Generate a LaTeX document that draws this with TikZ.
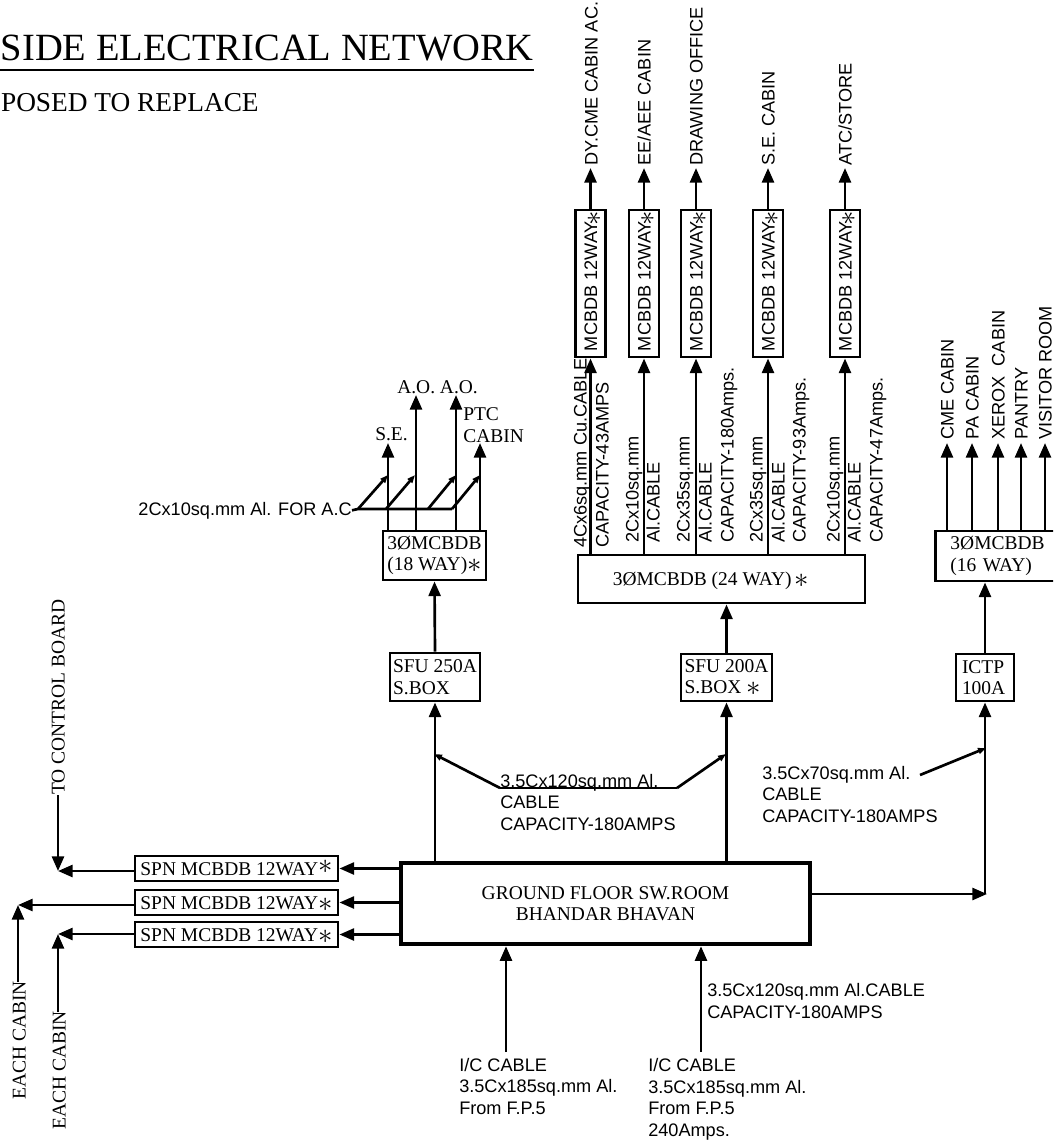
\documentclass[tikz,border=0pt]{standalone}
\usepackage{fontspec}
\usepackage{graphicx}
\setmainfont{Liberation Serif}
\newfontfamily\arialf{Liberation Sans}
\usetikzlibrary{arrows.meta,calc}
\newcommand{\pxu}{.75pt}
\newcommand{\sta}[1][-1.2pt]{\raisebox{#1}{\scalebox{1.5}{$\ast$}}}
\tikzset{
  tms/.style={inner sep=0pt,font=\fontsize{14.6}{16.1}\selectfont,align=left},
  ari/.style={inner sep=0pt,font=\arialf\fontsize{13.6}{16.1}\selectfont,align=left},
  pbox/.style={draw,line width=2.2pt,inner sep=0pt,fill=white},
  gbox/.style={pbox,line width=3.4pt},
  conn/.style={line width=2pt},
  arr/.style={conn,-{Triangle[length=11pt,width=9pt]}},
  sarr/.style={conn,-{Triangle[length=6pt,width=4.5pt]}},
  rlab/.style={rotate=90,anchor=base west},
  blab/.style={anchor=base west}
}
\begin{document}
\begin{tikzpicture}[x=.75pt,y=-.75pt]
\path[use as bounding box,clip] (0,0) rectangle (1053,1141);
% title
\node[anchor=base east,inner sep=0pt,font=\fontsize{28.9}{34}\selectfont] (title) at (534,61) {SIDE ELECTRICAL NETWORK};
\node[anchor=base east,inner sep=0pt,font=\fontsize{20.5}{24}\selectfont] (sub) at (259,112) {POSED TO REPLACE};
\coordinate (ulA) at (0,70);
\coordinate (ulB) at (534,70);
\draw[line width=2pt] (ulA) -- (ulB);

% MCBDB 12WAY boxes
\foreach \n/\x in {1/590.5,2/644,3/696,4/768,5/845}{
  \node[pbox,ari,rotate=90,minimum width=147*\pxu,minimum height=30*\pxu,text height=13*\pxu,text depth=0pt] (mb\n) at (\x,283.5) {MCBDB 12WAY\hspace{-3pt}\sta[-3pt]\hspace{-4pt}};
}
% 24 way
\node[pbox,tms,minimum width=287*\pxu,minimum height=48*\pxu,text height=13*\pxu,text depth=0pt] (b24) at (721.5,579) {3ØMCBDB (24 WAY)\,\sta\hspace{15\pxu}};
% arrows 24way to boxes and out
\foreach \n/\x in {1/590.5,2/644,3/696,4/768,5/845}{
  \coordinate (tm\n) at (\x,168);
  \draw[arr] (b24.north -| mb\n.west) -- (mb\n.west);
  \draw[arr] (mb\n.east) -- (tm\n);
}
% top labels
\node[ari,rlab] (t1) at (597.5,166) {DY.CME CABIN AC.};
\node[ari,rlab] (t2) at (650.5,166) {EE/AEE CABIN};
\node[ari,rlab] (t3) at (702.5,166) {DRAWING OFFICE};
\node[ari,rlab] (t4) at (774.5,166) {S.E. CABIN};
\node[ari,rlab] (t5) at (851.5,166) {ATC/STORE};
% cable labels
\node[ari,rlab] (c1a) at (586.5,548) {4Cx6sq.mm Cu.CABLE};
\node[ari,rlab] (c1b) at (608.5,548) {CAPACITY-43AMPS};
\node[ari,rlab] (c2a) at (638.5,543) {2Cx10sq.mm};
\node[ari,rlab] (c2b) at (659.5,543) {Al.CABLE};
\node[ari,rlab] (c3a) at (689.5,543) {2Cx35sq.mm};
\node[ari,rlab] (c3b) at (711.5,543) {Al.CABLE};
\node[ari,rlab] (c3c) at (733.5,543) {CAPACITY-180Amps.};
\node[ari,rlab] (c4a) at (762.5,543) {2Cx35sq.mm};
\node[ari,rlab] (c4b) at (784.5,543) {Al.CABLE};
\node[ari,rlab] (c4c) at (805.5,543) {CAPACITY-93Amps.};
\node[ari,rlab] (c5a) at (839.5,543) {2Cx10sq.mm};
\node[ari,rlab] (c5b) at (860.5,543) {Al.CABLE};
\node[ari,rlab] (c5c) at (882.5,543) {CAPACITY-47Amps.};

% 16 way
\node[pbox,tms,minimum width=140*\pxu,minimum height=50*\pxu,anchor=west,text width=110*\pxu] (b16) at (934,556) {3ØMCBDB\\(16 WAY)};
\foreach \n/\x/\t in {1/947/CME CABIN,2/972/PA CABIN,3/998/XEROX\ \ CABIN,4/1021/PANTRY,5/1045/VISITOR ROOM}{
  \coordinate (rt\n) at (\x,443);
  \draw[arr] (b16.north -| rt\n) -- (rt\n);
  \node[ari,rlab] (rl\n) at (\x+6.5,440) {\t};
}
% ICTP
\node[pbox,tms,minimum width=58*\pxu,minimum height=47*\pxu,text width=46*\pxu] (ictp) at (985,677.5) {ICTP\\100A};
\draw[arr] (ictp.north) -- (ictp.north |- b16.south);

% SFU
\node[pbox,tms,minimum width=90*\pxu,minimum height=48*\pxu] (sfuA) at (435,677) {SFU 250A\\S.BOX};
\node[pbox,tms,minimum width=91*\pxu,minimum height=47*\pxu] (sfuB) at (726.5,677.5) {SFU 200A\\S.BOX \sta};
\draw[arr] (sfuB.north) -- (sfuB.north |- b24.south);

% 18 way
\node[pbox,tms,minimum width=103*\pxu,minimum height=49*\pxu] (b18) at (434.5,555.5) {3ØMCBDB\\(18 WAY)\sta};
\draw[arr] (sfuA.north) -- (b18.south);
\coordinate (aoA) at (416,395);
\coordinate (aoB) at (456,395);
\coordinate (seT) at (388,443);
\coordinate (ptT) at (480,443);
\draw[arr] (b18.north -| seT) -- (seT);
\draw[arr] (b18.north -| aoA) -- (aoA);
\draw[arr] (b18.north -| aoB) -- (aoB);
\draw[arr] (b18.north -| ptT) -- (ptT);
\node[tms,blab] (aolab) at (397,393) {A.O. A.O.};
\node[tms,blab] (selab) at (375,440) {S.E.};
\node[tms,blab] (ptlab) at (463,442) {PTC\\CABIN};
\node[ari,anchor=base east] (aclab) at (352,515) {2Cx10sq.mm Al. FOR A.C};
\coordinate (d0) at (358,509);
\coordinate (d1) at (386,509);
\coordinate (d2) at (428,509);
\coordinate (d3) at (452,509);
\coordinate (e0) at (388,475);
\coordinate (e1) at (415,475);
\coordinate (e2) at (456,475);
\coordinate (e3) at (480,475);
\draw[conn] (aclab.east) -- (d0) -- (d3);
\draw[sarr] (d0) -- (e0);
\draw[sarr] (d1) -- (e1);
\draw[sarr] (d2) -- (e2);
\draw[sarr] (d3) -- (e3);

% ground floor
\node[gbox,tms,align=center,minimum width=409*\pxu,minimum height=81*\pxu] (gnd) at (605.5,903.5) {GROUND FLOOR SW.ROOM\\BHANDAR BHAVAN};
\draw[arr] (gnd.north -| sfuA.south) -- (sfuA.south);
\draw[arr] (gnd.north -| sfuB.south) -- (sfuB.south);
\coordinate (elb) at (987,894);
\draw[arr] (gnd.east |- elb) -- (elb);
\coordinate (elbB) at (985,894);
\draw[arr] (elbB) -- (ictp.south);
% diagonal feeder
\coordinate (fa) at (500,788);
\coordinate (fb) at (677,788);
\coordinate (fc) at (434,754);
\coordinate (fd) at (726,754);
\draw[conn] (fa) -- (fb);
\draw[sarr] (fa) -- (fc);
\draw[sarr] (fb) -- (fd);
\node[ari,blab] (f1) at (500,830) {3.5Cx120sq.mm Al.\\CABLE\\CAPACITY-180AMPS};
\node[ari,blab] (f2) at (762,822) {3.5Cx70sq.mm Al.\\CABLE\\CAPACITY-180AMPS};
\coordinate (ga) at (920,775);
\coordinate (gb) at (986,748);
\draw[sarr] (ga) -- (gb);

% incoming
\coordinate (ia) at (506,1052);
\coordinate (ib) at (701,1052);
\draw[arr] (ia) -- (ia |- gnd.south);
\draw[arr] (ib) -- (ib |- gnd.south);
\node[ari,blab] (i1) at (459,1114) {I/C CABLE\\3.5Cx185sq.mm Al.\\From F.P.5};
\node[ari,blab] (i2) at (648,1136) {I/C CABLE\\3.5Cx185sq.mm Al.\\From F.P.5\\240Amps.};
\node[ari,blab] (i3) at (707,1018) {3.5Cx120sq.mm Al.CABLE\\CAPACITY-180AMPS};

% SPN boxes
\foreach \n/\y/\r in {1/868.5/0.8pt,2/902.5/-2pt,3/934.5/-2pt}{
  \node[pbox,tms,minimum width=203*\pxu,minimum height=25*\pxu,text height=13*\pxu,text depth=0pt] (spn\n) at (236.5,\y) {SPN MCBDB 12WAY\sta[\r]};
  \draw[arr] (gnd.west |- spn\n.east) -- (spn\n.east);
}
\coordinate (tA) at (58,871);
\coordinate (tB) at (18,905);
\coordinate (tC) at (58,934);
\draw[arr] (spn1.west |- tA) -- (tA);
\draw[arr] (spn2.west |- tB) -- (tB);
\draw[arr] (spn3.west |- tC) -- (tC);
\node[tms,rlab] (ctl) at (64.5,795) {TO CONTROL BOARD};
\node[tms,rlab] (ec1) at (25.5,1100) {EACH CABIN};
\node[tms,rlab] (ec2) at (65.5,1130) {EACH CABIN};
\coordinate (ec1e) at (18,982);
\coordinate (ec2e) at (58,1012);
\coordinate (ctle) at (58,795);
\draw[arr] (ctle) -- (tA);
\draw[arr] (ec1e) -- (tB);
\draw[arr] (ec2e) -- (tC);
\end{tikzpicture}
\end{document}
